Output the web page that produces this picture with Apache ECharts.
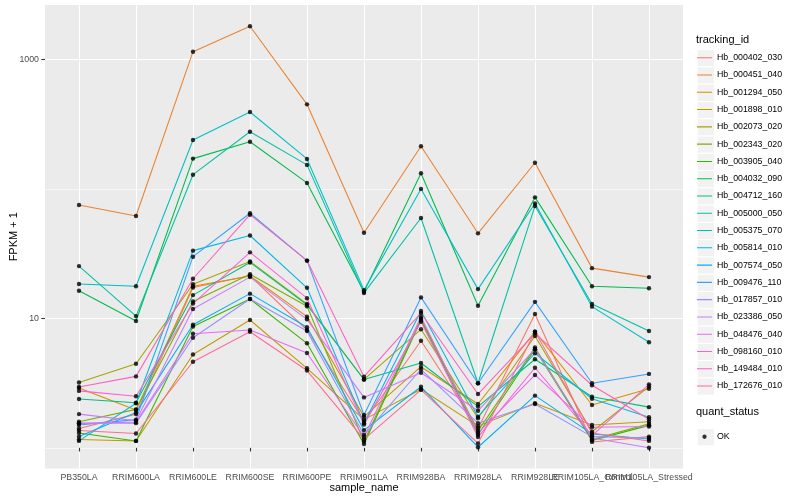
<!DOCTYPE html>
<html><head><meta charset="utf-8">
<script src="https://cdn.jsdelivr.net/npm/echarts@6/dist/echarts.min.js"></script>
<style>html,body{margin:0;padding:0;background:#fff}#c{width:800px;height:500px}</style>
</head><body><div id="c"></div>
<script>
// ---- data ----
const categories = ['PB350LA','RRIM600LA','RRIM600LE','RRIM600SE','RRIM600PE','RRIM901LA','RRIM928BA','RRIM928LA','RRIM928LE','RRIM105LA_Control','RRIM105LA_Stressed'];
const trackingIds = ['Hb_000402_030','Hb_000451_040','Hb_001294_050','Hb_001898_010','Hb_002073_020','Hb_002343_020','Hb_003905_040','Hb_004032_090','Hb_004712_160','Hb_005000_050','Hb_005375_070','Hb_005814_010','Hb_007574_050','Hb_009476_110','Hb_017857_010','Hb_023386_050','Hb_048476_040','Hb_098160_010','Hb_149484_010','Hb_172676_010'];
const colors = ['#F8766D','#EA8331','#D89000','#C09B00','#A3A500','#7CAE00','#39B600','#00BB4E','#00BF7D','#00C1A3','#00BFC4','#00BAE0','#00B0F6','#35A2FF','#9590FF','#C77CFF','#E76BF3','#FA62DB','#FF62BC','#FF6C91'];
// FPKM + 1 per sample (same order as categories)
const hb_000402_030 = [1.41, 1.82, 17.3, 21.3, 8.12, 1.59, 6.71, 1.41, 10.8, 1.11, 1.22];
const hb_000451_040 = [75.0, 61.7, 1145, 1798, 449, 45.8, 212.8, 45.3, 159, 24.4, 20.8];
const hb_001294_050 = [2.90, 1.96, 17.7, 21.2, 10.3, 1.74, 4.23, 2.18, 7.88, 2.14, 2.86];
const hb_001898_010 = [1.16, 1.13, 5.25, 9.70, 4.11, 1.65, 2.83, 1.47, 2.21, 1.50, 1.59];
const hb_002073_020 = [3.19, 4.46, 18.3, 27.5, 12.9, 3.37, 8.22, 1.69, 7.30, 1.33, 2.97];
const hb_002343_020 = [1.59, 1.98, 13.5, 21.9, 12.4, 1.12, 9.97, 1.35, 5.95, 1.16, 1.53];
const hb_003905_040 = [1.30, 1.13, 8.64, 14.1, 6.41, 1.07, 9.70, 1.26, 5.77, 1.14, 1.49];
const hb_004032_090 = [16.3, 9.53, 171, 231, 111, 16.05, 132, 12.5, 85.9, 17.7, 17.05];
const hb_004712_160 = [2.38, 2.23, 15.1, 27.0, 12.7, 3.37, 4.52, 2.08, 4.83, 2.48, 2.06];
const hb_005000_050 = [25.3, 10.4, 128.5, 276, 153, 15.7, 59.5, 3.15, 73.7, 12.9, 7.98];
const hb_005375_070 = [18.4, 17.7, 238, 392, 170, 16.5, 99.8, 16.8, 77.1, 12.3, 6.53];
const hb_005814_010 = [1.13, 2.21, 33.3, 43.6, 17.2, 1.55, 11.4, 1.74, 5.37, 2.39, 1.72];
const hb_007574_050 = [1.22, 1.87, 8.92, 15.5, 8.54, 1.37, 2.96, 1.01, 2.53, 1.28, 1.17];
const hb_009476_110 = [1.50, 1.65, 29.9, 64.7, 27.9, 1.79, 14.5, 3.15, 13.4, 3.15, 3.72];
const hb_017857_010 = [1.55, 1.55, 7.08, 14.1, 7.98, 1.26, 4.04, 1.55, 2.18, 1.22, 1.19];
const hb_023386_050 = [1.82, 1.62, 11.8, 20.8, 9.82, 2.45, 3.80, 1.93, 5.77, 1.19, 1.00];
const hb_048476_040 = [1.54, 1.58, 7.60, 8.12, 5.40, 1.21, 10.3, 1.30, 3.65, 1.44, 1.46];
const hb_098160_010 = [2.75, 2.50, 13.0, 32.3, 14.3, 1.51, 9.41, 1.21, 4.15, 1.24, 3.09];
const hb_149484_010 = [2.95, 3.56, 20.2, 63.1, 27.9, 3.54, 11.0, 2.60, 7.66, 3.04, 1.66];
const hb_172676_010 = [1.36, 1.29, 4.62, 7.88, 3.95, 1.16, 2.80, 1.08, 7.88, 1.30, 1.13];
const seriesValues = [hb_000402_030, hb_000451_040, hb_001294_050, hb_001898_010, hb_002073_020, hb_002343_020, hb_003905_040, hb_004032_090, hb_004712_160, hb_005000_050, hb_005375_070, hb_005814_010, hb_007574_050, hb_009476_110, hb_017857_010, hb_023386_050, hb_048476_040, hb_098160_010, hb_149484_010, hb_172676_010];
const yMajorTicks = [10, 1000];
const yMinorTicks = [1, 100];
const yRange = [0.692, 2626];

// ---- chart ----
const FONT = '"Liberation Sans", Arial, Helvetica, sans-serif';
const L = Math.log10;
const yMin = L(yRange[0]), yMax = L(yRange[1]);
const PANEL = {left: 45, right: 117, top: 5, bottom: 31.5};
const PT = 1.07;

const lineIcon = 'path://M0,0h0.01v0.01h-0.01z M15,17.28h-0.01v-0.01h0.01z M0,8.1h15v1.07h-15z';
const dotIcon = 'path://M0,0h0.01v0.01h-0.01z M15,17.28h-0.01v-0.01h0.01z M9.65,8.64a2.15,2.15 0 1,1 -4.3,0a2.15,2.15 0 1,1 4.3,0z';

const series = trackingIds.map((id, i) => ({
  name: id, type: 'line', xAxisIndex: 1, yAxisIndex: 2,
  data: seriesValues[i].map(v => L(v)),
  showSymbol: false, symbol: 'none', color: colors[i],
  lineStyle: {color: colors[i], width: PT},
  itemStyle: {color: colors[i]},
  silent: true, animation: false, z: 2
}));
const pts = [];
seriesValues.forEach(arr => arr.forEach((v, j) => pts.push([j, L(v)])));
series.push({
  name: 'OK', type: 'scatter', xAxisIndex: 1, yAxisIndex: 2, data: pts,
  symbol: 'circle', symbolSize: 4.4, itemStyle: {color: '#000'}, silent: true, animation: false, z: 3
});

const LEG_LEFT = 697, LEG_TOP = 49.1, KEY = 17.28, LEG2_TOP = 428.1;
const keyRects = [];
for (let i = 0; i < trackingIds.length; i++) {
  keyRects.push({type: 'rect', left: LEG_LEFT - 0.3, top: LEG_TOP + i * KEY, shape: {width: KEY, height: KEY}, style: {fill: '#F2F2F2', stroke: '#fff', lineWidth: 1}, z: 0});
}
keyRects.push({type: 'rect', left: LEG_LEFT - 0.3, top: LEG2_TOP, shape: {width: KEY, height: KEY}, style: {fill: '#F2F2F2', stroke: '#fff', lineWidth: 1}, z: 0});

const axisText = {fontFamily: FONT, fontSize: 8.8, color: '#4D4D4D'};
const option = {
  backgroundColor: '#fff',
  animation: false,
  textStyle: {fontFamily: FONT},
  grid: [
    Object.assign({show: true, backgroundColor: '#EBEBEB', borderWidth: 0, containLabel: false, outerBoundsMode: 'none'}, PANEL),
    {left: 79, right: 151, top: PANEL.top, bottom: PANEL.bottom, containLabel: false, outerBoundsMode: 'none'}
  ],
  title: [
    {text: 'tracking_id', left: 696, top: 34.5, padding: 0, textStyle: {fontFamily: FONT, fontSize: 11, fontWeight: 'normal', color: '#000'}},
    {text: 'quant_status', left: 696, top: 406.5, padding: 0, textStyle: {fontFamily: FONT, fontSize: 11, fontWeight: 'normal', color: '#000'}}
  ],
  legend: [
    {orient: 'vertical', left: LEG_LEFT, top: LEG_TOP, padding: 0, itemGap: 0, itemWidth: 15, itemHeight: KEY,
     selectedMode: false, textStyle: {fontFamily: FONT, fontSize: 8.8, color: '#000'},
     itemStyle: {borderWidth: 0},
     data: trackingIds.map((n, i) => ({name: n, icon: lineIcon, itemStyle: {color: colors[i], borderWidth: 0}}))},
    {orient: 'vertical', left: LEG_LEFT, top: LEG2_TOP, padding: 0, itemGap: 0, itemWidth: 15, itemHeight: KEY,
     selectedMode: false, textStyle: {fontFamily: FONT, fontSize: 8.8, color: '#000'},
     itemStyle: {borderWidth: 0},
     data: [{name: 'OK', icon: dotIcon, itemStyle: {color: '#000', borderWidth: 0}}]}
  ],
  graphic: keyRects,
  xAxis: [
    {type: 'value', gridIndex: 0, min: 0, max: 1, show: false},
    {type: 'category', gridIndex: 1, data: categories, boundaryGap: false,
     axisLine: {show: false},
     axisTick: {show: true, length: 3.67, lineStyle: {color: '#333333', width: PT}},
     axisLabel: Object.assign({interval: 0, margin: 5, hideOverlap: false}, axisText),
     splitLine: {show: true, lineStyle: {color: '#FFFFFF', width: PT}},
     name: 'sample_name', nameLocation: 'middle', nameGap: 14, nameMoveOverlap: false,
     nameTextStyle: {fontFamily: FONT, fontSize: 11, color: '#000'}}
  ],
  yAxis: [
    {type: 'value', gridIndex: 0, min: yMin, max: yMax,
     axisLine: {show: false},
     axisTick: {show: true, length: 3.67, customValues: yMajorTicks.map(L), lineStyle: {color: '#333333', width: PT}},
     axisLabel: Object.assign({margin: 6, customValues: yMajorTicks.map(L), formatter: v => String(Math.round(Math.pow(10, v)))}, axisText),
     splitLine: {show: true, lineStyle: {color: '#FFFFFF', width: PT}},
     name: 'FPKM + 1', nameLocation: 'middle', nameRotate: 90, nameGap: 26, nameMoveOverlap: false,
     nameTextStyle: {fontFamily: FONT, fontSize: 11, color: '#000'}},
    {type: 'value', gridIndex: 0, min: yMin, max: yMax,
     axisLine: {show: false},
     axisTick: {show: false, customValues: yMinorTicks.map(L)},
     axisLabel: {show: false},
     splitLine: {show: true, lineStyle: {color: '#FFFFFF', width: PT / 2}}},
    {type: 'value', gridIndex: 1, min: yMin, max: yMax, show: false}
  ],
  series: series
};
const chart = echarts.init(document.getElementById('c'), null, {renderer: 'canvas'});
chart.setOption(option);
</script>
</body></html>
